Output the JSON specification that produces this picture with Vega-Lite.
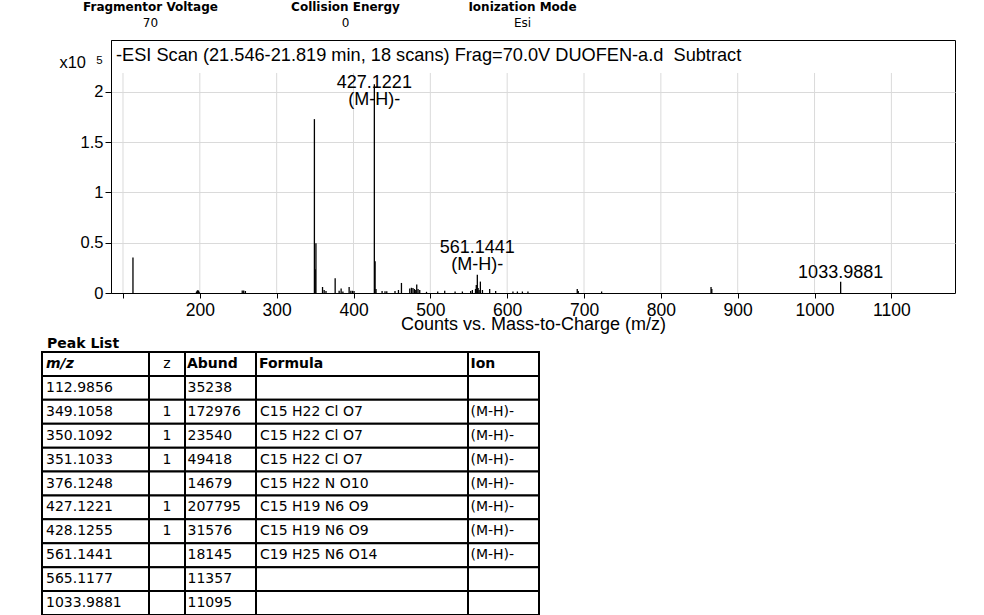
{
  "$schema": "https://vega.github.io/schema/vega-lite/v6.json",
  "padding": {"left": 41, "top": 0, "right": 0, "bottom": 0},
  "background": "white",
  "spacing": 3,
  "config": {"view": {"stroke": null}, "text": {"color": "black"}},
  "datasets": {
    "params": [
      {"name": "Fragmentor Voltage", "value": "70"},
      {"name": "Collision Energy", "value": "0"},
      {"name": "Ionization Mode", "value": "Esi"}
    ],
    "gridx": [{"mz": 100}, {"mz": 200}, {"mz": 300}, {"mz": 400}, {"mz": 500}, {"mz": 600}, {"mz": 700}, {"mz": 800}, {"mz": 900}, {"mz": 1000}, {"mz": 1100}],
    "spectrum": [
      {"mz": 112.9856, "abund": 35238},
      {"mz": 195.6, "abund": 1200}, {"mz": 196.4, "abund": 2200}, {"mz": 197.3, "abund": 2800}, {"mz": 198.2, "abund": 2400}, {"mz": 199.1, "abund": 1300},
      {"mz": 255.2, "abund": 2500}, {"mz": 257.1, "abund": 2600}, {"mz": 259.3, "abund": 2000},
      {"mz": 349.1058, "abund": 172976}, {"mz": 350.1092, "abund": 23540}, {"mz": 351.1033, "abund": 49418},
      {"mz": 359.7, "abund": 6000}, {"mz": 361.8, "abund": 3000}, {"mz": 364.2, "abund": 2000},
      {"mz": 376.1248, "abund": 14679},
      {"mz": 381.3, "abund": 2200}, {"mz": 383.9, "abund": 4500}, {"mz": 386.2, "abund": 1500},
      {"mz": 394.3, "abund": 6000}, {"mz": 396.5, "abund": 2200}, {"mz": 398.6, "abund": 2200}, {"mz": 400.7, "abund": 2000},
      {"mz": 427.1221, "abund": 207795}, {"mz": 428.1255, "abund": 31576}, {"mz": 429.3, "abund": 4000},
      {"mz": 437.2, "abund": 2000}, {"mz": 441.0, "abund": 1800}, {"mz": 443.3, "abund": 1800},
      {"mz": 454.0, "abund": 2000}, {"mz": 458.5, "abund": 3000}, {"mz": 462.4, "abund": 10000},
      {"mz": 473.2, "abund": 4500}, {"mz": 475.4, "abund": 5200}, {"mz": 477.4, "abund": 5000}, {"mz": 479.3, "abund": 4000}, {"mz": 481.0, "abund": 3000}, {"mz": 482.3, "abund": 8500}, {"mz": 484.0, "abund": 4000}, {"mz": 486.2, "abund": 3000},
      {"mz": 495.0, "abund": 1200}, {"mz": 509.6, "abund": 1500}, {"mz": 518.7, "abund": 2200}, {"mz": 532.2, "abund": 1500}, {"mz": 541.7, "abund": 1500},
      {"mz": 552.5, "abund": 2000}, {"mz": 554.7, "abund": 3000}, {"mz": 558.8, "abund": 4000}, {"mz": 559.8, "abund": 8000}, {"mz": 561.1441, "abund": 18145}, {"mz": 562.2, "abund": 5000}, {"mz": 563.5, "abund": 3000}, {"mz": 565.1177, "abund": 11357}, {"mz": 567.8, "abund": 3000},
      {"mz": 577.2, "abund": 4000}, {"mz": 585.0, "abund": 2000}, {"mz": 607.5, "abund": 1500}, {"mz": 613.3, "abund": 1500}, {"mz": 619.8, "abund": 1500}, {"mz": 627.0, "abund": 1500},
      {"mz": 691.2, "abund": 4000}, {"mz": 692.5, "abund": 2000}, {"mz": 722.9, "abund": 1500},
      {"mz": 865.3, "abund": 6000}, {"mz": 866.3, "abund": 4000},
      {"mz": 1033.9881, "abund": 11095}
    ],
    "labels": [
      {"mz": 427.1221, "abund": 207795, "label": ["427.1221", "(M-H)-"]},
      {"mz": 561.1441, "abund": 18145, "label": ["561.1441", "(M-H)-"]},
      {"mz": 1033.9881, "abund": 11095, "label": ["1033.9881"]}
    ],
    "peaklist": [
      {"mz": "m/z", "z": "z", "abund": "Abund", "formula": "Formula", "ion": "Ion"},
      {"mz": "112.9856", "z": "", "abund": "35238", "formula": "", "ion": ""},
      {"mz": "349.1058", "z": "1", "abund": "172976", "formula": "C15 H22 Cl O7", "ion": "(M-H)-"},
      {"mz": "350.1092", "z": "1", "abund": "23540", "formula": "C15 H22 Cl O7", "ion": "(M-H)-"},
      {"mz": "351.1033", "z": "1", "abund": "49418", "formula": "C15 H22 Cl O7", "ion": "(M-H)-"},
      {"mz": "376.1248", "z": "", "abund": "14679", "formula": "C15 H22 N O10", "ion": "(M-H)-"},
      {"mz": "427.1221", "z": "1", "abund": "207795", "formula": "C15 H19 N6 O9", "ion": "(M-H)-"},
      {"mz": "428.1255", "z": "1", "abund": "31576", "formula": "C15 H19 N6 O9", "ion": "(M-H)-"},
      {"mz": "561.1441", "z": "", "abund": "18145", "formula": "C19 H25 N6 O14", "ion": "(M-H)-"},
      {"mz": "565.1177", "z": "", "abund": "11357", "formula": "", "ion": ""},
      {"mz": "1033.9881", "z": "", "abund": "11095", "formula": "", "ion": ""}
    ]
  },
  "vconcat": [
    {
      "spacing": 0,
      "hconcat": [
        {
          "width": 217, "height": 36,
          "data": {"name": "params"},
          "transform": [{"filter": "datum.name == 'Fragmentor Voltage'"}],
          "layer": [
            {"mark": {"type": "text", "font": "DejaVu Sans", "fontSize": 12, "fontWeight": "bold", "dy": -11}, "encoding": {"text": {"field": "name"}}},
            {"mark": {"type": "text", "font": "DejaVu Sans", "fontSize": 12, "dy": 5}, "encoding": {"text": {"field": "value"}}}
          ]
        },
        {
          "width": 173, "height": 36,
          "data": {"name": "params"},
          "transform": [{"filter": "datum.name == 'Collision Energy'"}],
          "layer": [
            {"mark": {"type": "text", "font": "DejaVu Sans", "fontSize": 12, "fontWeight": "bold", "dy": -11}, "encoding": {"text": {"field": "name"}}},
            {"mark": {"type": "text", "font": "DejaVu Sans", "fontSize": 12, "dy": 5}, "encoding": {"text": {"field": "value"}}}
          ]
        },
        {
          "width": 181, "height": 36,
          "data": {"name": "params"},
          "transform": [{"filter": "datum.name == 'Ionization Mode'"}],
          "layer": [
            {"mark": {"type": "text", "font": "DejaVu Sans", "fontSize": 12, "fontWeight": "bold", "dy": -11}, "encoding": {"text": {"field": "name"}}},
            {"mark": {"type": "text", "font": "DejaVu Sans", "fontSize": 12, "dy": 5}, "encoding": {"text": {"field": "value"}}}
          ]
        }
      ]
    },
    {
      "spacing": 0,
      "hconcat": [
        {
          "width": 1, "height": 1,
          "data": {"values": []},
          "mark": {"type": "point", "opacity": 0}
        },
        {
          "width": 844, "height": 253,
          "view": {"stroke": "black", "strokeWidth": 1},
          "title": {"text": "-ESI Scan (21.546-21.819 min, 18 scans) Frag=70.0V DUOFEN-a.d \u00a0Subtract", "anchor": "start", "frame": "group", "baseline": "top", "offset": -25, "dx": 5, "font": "Liberation Sans", "fontSize": 18.2, "fontWeight": "normal", "color": "black"},
          "layer": [
            {
              "data": {"name": "gridx"},
              "mark": {"type": "rule", "color": "#dadada", "strokeWidth": 1},
              "encoding": {
                "x": {"field": "mz", "type": "quantitative"},
                "y": {"datum": 0, "type": "quantitative"},
                "y2": {"datum": 218900}
              }
            },
            {
              "data": {"name": "spectrum"},
              "mark": {"type": "rule", "color": "black", "strokeWidth": 1.3},
              "encoding": {
                "x": {
                  "field": "mz", "type": "quantitative",
                  "scale": {"domain": [84.4, 1182.8], "nice": false, "zero": false},
                  "axis": {
                    "values": [100, 200, 300, 400, 500, 600, 700, 800, 900, 1000, 1100],
                    "labelExpr": "datum.value == 100 ? '' : datum.label",
                    "format": "d",
                    "grid": false, "domainColor": "black", "tickColor": "black", "tickSize": 5,
                    "labelFont": "Liberation Sans", "labelFontSize": 17.5, "labelColor": "black", "labelPadding": 3,
                    "title": "Counts vs. Mass-to-Charge (m/z)", "titleFont": "Liberation Sans", "titleFontSize": 18, "titleFontWeight": "normal", "titleColor": "black", "titlePadding": -3
                  }
                },
                "y": {
                  "field": "abund", "type": "quantitative",
                  "scale": {"domain": [0, 251700], "nice": false, "zero": true},
                  "axis": {
                    "values": [0, 50000, 100000, 150000, 200000],
                    "labelExpr": "datum.value / 100000",
                    "grid": true, "gridColor": "#dadada", "domainColor": "black", "tickColor": "black", "tickSize": 6,
                    "labelFont": "Liberation Sans", "labelFontSize": 16.5, "labelColor": "black", "labelPadding": 2,
                    "minExtent": 67,
                    "title": "x10", "titleAngle": 0, "titleAlign": "left", "titleBaseline": "alphabetic", "titleX": -52, "titleY": 27.7,
                    "titleFont": "Liberation Sans", "titleFontSize": 16.4, "titleFontWeight": "normal", "titleColor": "black"
                  }
                },
                "y2": {"datum": 0}
              }
            },
            {
              "data": {"name": "labels"},
              "transform": [{"filter": "datum.mz == 427.1221"}],
              "mark": {"type": "text", "baseline": "top", "dy": -10, "font": "Liberation Sans", "fontSize": 18, "lineHeight": 16.5},
              "encoding": {
                "x": {"field": "mz", "type": "quantitative"},
                "y": {"field": "abund", "type": "quantitative"},
                "text": {"field": "label"}
              }
            },
            {
              "data": {"name": "labels"},
              "transform": [{"filter": "datum.mz != 427.1221 && length(datum.label) == 2"}],
              "mark": {"type": "text", "baseline": "bottom", "dy": -18, "font": "Liberation Sans", "fontSize": 18, "lineHeight": 17.3},
              "encoding": {
                "x": {"field": "mz", "type": "quantitative"},
                "y": {"field": "abund", "type": "quantitative"},
                "text": {"field": "label"}
              }
            },
            {
              "data": {"name": "labels"},
              "transform": [{"filter": "length(datum.label) == 1"}],
              "mark": {"type": "text", "baseline": "bottom", "dy": 0, "font": "Liberation Sans", "fontSize": 18},
              "encoding": {
                "x": {"field": "mz", "type": "quantitative"},
                "y": {"field": "abund", "type": "quantitative"},
                "text": {"field": "label"}
              }
            },
            {
              "data": {"values": [{"exponent": "5"}]},
              "mark": {"type": "text", "align": "left", "baseline": "alphabetic", "dx": -14.7, "dy": 23.5, "font": "Liberation Sans", "fontSize": 11.5},
              "encoding": {
                "x": {"datum": 84.4, "type": "quantitative"},
                "y": {"datum": 251700, "type": "quantitative"},
                "text": {"field": "exponent"}
              }
            }
          ]
        }
      ]
    },
    {
      "title": {"text": "Peak List", "anchor": "start", "dx": 6, "font": "DejaVu Sans", "fontSize": 14, "fontWeight": "bold", "color": "black", "offset": 0},
      "spacing": 0,
      "bounds": "flush",
      "hconcat": [
        {
          "width": 107, "height": 263,
          "data": {"name": "peaklist"},
          "encoding": {"y": {"field": "mz", "type": "nominal", "sort": null, "axis": null, "scale": {"paddingInner": 0, "paddingOuter": 0}}},
          "layer": [
            {"mark": {"type": "rect", "fill": "white", "stroke": "black", "strokeWidth": 2}},
            {"transform": [{"filter": "datum.mz == 'm/z'"}], "mark": {"type": "text", "align": "left", "dx": -49.5, "font": "DejaVu Sans", "fontSize": 14, "fontWeight": "bold", "fontStyle": "italic"}, "encoding": {"text": {"field": "mz"}}},
            {"transform": [{"filter": "datum.mz != 'm/z'"}], "mark": {"type": "text", "align": "left", "dx": -49.5, "font": "DejaVu Sans", "fontSize": 14}, "encoding": {"text": {"field": "mz"}}}
          ]
        },
        {
          "width": 36, "height": 263,
          "data": {"name": "peaklist"},
          "encoding": {"y": {"field": "mz", "type": "nominal", "sort": null, "axis": null, "scale": {"paddingInner": 0, "paddingOuter": 0}}},
          "layer": [
            {"mark": {"type": "rect", "fill": "white", "stroke": "black", "strokeWidth": 2}},
            {"mark": {"type": "text", "align": "center", "font": "DejaVu Sans", "fontSize": 14}, "encoding": {"text": {"field": "z"}}}
          ]
        },
        {
          "width": 71, "height": 263,
          "data": {"name": "peaklist"},
          "encoding": {"y": {"field": "mz", "type": "nominal", "sort": null, "axis": null, "scale": {"paddingInner": 0, "paddingOuter": 0}}},
          "layer": [
            {"mark": {"type": "rect", "fill": "white", "stroke": "black", "strokeWidth": 2}},
            {"transform": [{"filter": "datum.mz == 'm/z'"}], "mark": {"type": "text", "align": "left", "dx": -33.5, "font": "DejaVu Sans", "fontSize": 14, "fontWeight": "bold"}, "encoding": {"text": {"field": "abund"}}},
            {"transform": [{"filter": "datum.mz != 'm/z'"}], "mark": {"type": "text", "align": "left", "dx": -33, "font": "DejaVu Sans", "fontSize": 14}, "encoding": {"text": {"field": "abund"}}}
          ]
        },
        {
          "width": 212, "height": 263,
          "data": {"name": "peaklist"},
          "encoding": {"y": {"field": "mz", "type": "nominal", "sort": null, "axis": null, "scale": {"paddingInner": 0, "paddingOuter": 0}}},
          "layer": [
            {"mark": {"type": "rect", "fill": "white", "stroke": "black", "strokeWidth": 2}},
            {"transform": [{"filter": "datum.mz == 'm/z'"}], "mark": {"type": "text", "align": "left", "dx": -103, "font": "DejaVu Sans", "fontSize": 14, "fontWeight": "bold"}, "encoding": {"text": {"field": "formula"}}},
            {"transform": [{"filter": "datum.mz != 'm/z'"}], "mark": {"type": "text", "align": "left", "dx": -102, "font": "DejaVu Sans", "fontSize": 14}, "encoding": {"text": {"field": "formula"}}}
          ]
        },
        {
          "width": 71, "height": 263,
          "data": {"name": "peaklist"},
          "encoding": {"y": {"field": "mz", "type": "nominal", "sort": null, "axis": null, "scale": {"paddingInner": 0, "paddingOuter": 0}}},
          "layer": [
            {"mark": {"type": "rect", "fill": "white", "stroke": "black", "strokeWidth": 2}},
            {"transform": [{"filter": "datum.mz == 'm/z'"}], "mark": {"type": "text", "align": "left", "dx": -33, "font": "DejaVu Sans", "fontSize": 14, "fontWeight": "bold"}, "encoding": {"text": {"field": "ion"}}},
            {"transform": [{"filter": "datum.mz != 'm/z'"}], "mark": {"type": "text", "align": "left", "dx": -33, "font": "DejaVu Sans", "fontSize": 14}, "encoding": {"text": {"field": "ion"}}}
          ]
        }
      ]
    }
  ]
}
